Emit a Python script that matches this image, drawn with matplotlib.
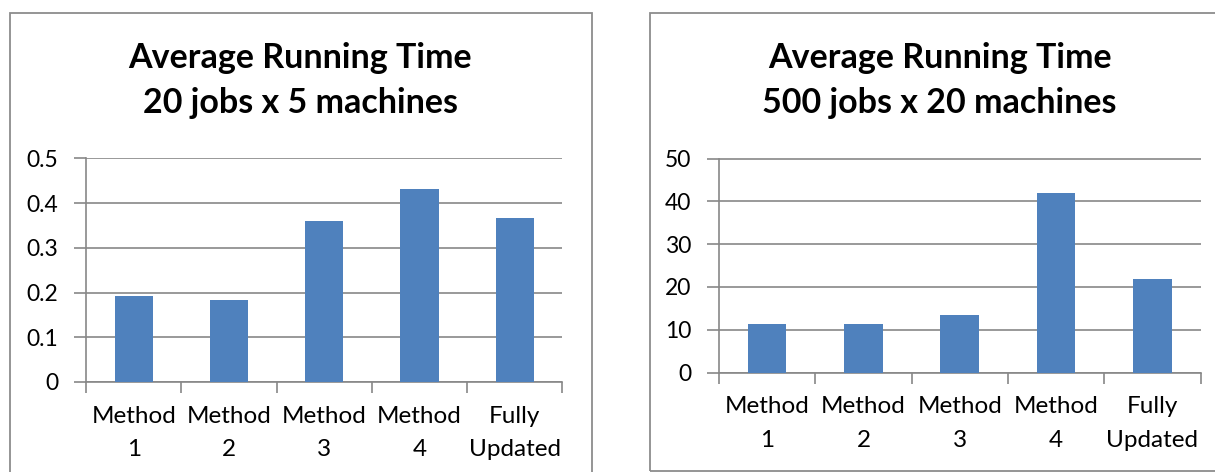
import matplotlib.pyplot as plt
from matplotlib.patches import Rectangle

plt.rcParams['font.family'] = ['Lato', 'DejaVu Sans']

# 数据
methods = ['Method\n1', 'Method\n2', 'Method\n3', 'Method\n4', 'Fully\nUpdated']
time_small = [0.192, 0.183, 0.360, 0.431, 0.366]
time_large = [11.25, 11.3, 13.45, 41.9, 21.85]
ticks_small = [0, 0.1, 0.2, 0.3, 0.4, 0.5]
ticks_large = [0, 10, 20, 30, 40, 50]
title_small = ['Average Running Time', '20 jobs x 5 machines']
title_large = ['Average Running Time', '500 jobs x 20 machines']

W, H = 1215, 472
bar_color = '#4F81BD'
grid_color = '#878787'

fig = plt.figure(figsize=(W / 100, H / 100), dpi=100)


def px(x0, y0, x1, y1):
    # 像素坐标 -> figure 坐标 [left, bottom, width, height]
    return [x0 / W, 1 - y1 / H, (x1 - x0) / W, (y1 - y0) / H]


def draw(rect, box, cx, values, yticks, labels, title):
    # 外框
    bx0, by0, bx1, by1 = box
    fig.add_artist(Rectangle((bx0 / W, 1 - by1 / H), (bx1 - bx0) / W, (by1 - by0) / H,
                             transform=fig.transFigure, fill=False,
                             edgecolor='#8c8c8c', linewidth=1.3))
    fig.text(cx / W, 1 - 68 / H, title[0], ha='center', va='baseline',
             fontsize=24.5, fontweight='bold')
    fig.text(cx / W, 1 - 113 / H, title[1], ha='center', va='baseline',
             fontsize=24.5, fontweight='bold')

    ax = fig.add_axes(rect)
    x = range(len(values))
    ax.bar(x, values, width=0.4, color=bar_color, zorder=3)
    ax.set_xlim(-0.5, len(values) - 0.5)
    ax.set_ylim(yticks[0], yticks[-1])
    ax.set_yticks(yticks)
    ax.set_yticklabels([f'{t:g}' for t in yticks])
    ax.yaxis.grid(True, color=grid_color, linewidth=1.2, zorder=0)
    ax.set_xticks(list(x))
    ax.set_xticklabels(labels, fontsize=17.5, linespacing=1.75)
    ax.set_xticks([i - 0.5 for i in range(len(values) + 1)], minor=True)
    ax.tick_params(axis='x', which='major', length=0, pad=17)
    ax.tick_params(axis='x', which='minor', length=8, width=1.2, color=grid_color)
    ax.tick_params(axis='y', length=9, width=1.2, color=grid_color,
                   labelsize=16.5, pad=11)
    for s in ['top', 'right']:
        ax.spines[s].set_visible(False)
    for s in ['left', 'bottom']:
        ax.spines[s].set_color(grid_color)
        ax.spines[s].set_linewidth(1.2)
    return ax


draw(px(86, 158.5, 562.5, 382), (10, 13, 592, 480), 300.5,
     time_small, ticks_small, methods, title_small)
draw(px(719, 158.5, 1200.5, 372.5), (650, 13, 1230, 470.5), 939.5,
     time_large, ticks_large, methods, title_large)

fig.savefig('out.png', dpi=100)
